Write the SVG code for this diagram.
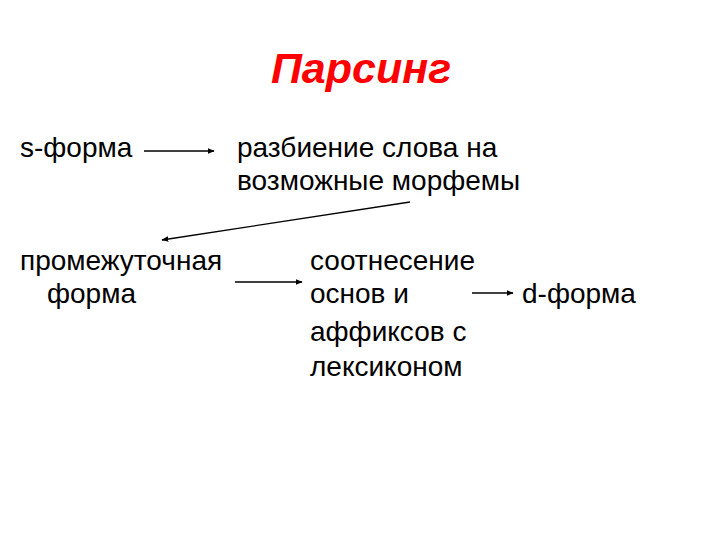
<svg xmlns="http://www.w3.org/2000/svg" width="720" height="540" viewBox="0 0 720 540">
<style>
.t{font-family:"Liberation Sans",Arial,sans-serif;font-size:28px;fill:#000}
.h{font-family:"Liberation Sans",Arial,sans-serif;font-size:43px;font-weight:bold;font-style:italic;fill:#ff0000}
.c{stroke:#000;stroke-width:1.3;fill:none;marker-end:url(#a)}
</style>
<defs>
<marker id="a" viewBox="0 0 10 10" refX="9" refY="5" markerWidth="7" markerHeight="7" markerUnits="userSpaceOnUse" orient="auto">
<path d="M0,1 L10,5 L0,9 Z" fill="#000"/>
</marker>
</defs>
<rect width="720" height="540" fill="#fff"/>
<g id="title"><text class="h" x="361" y="83" text-anchor="middle">Парсинг</text></g>
<g id="s-form"><text class="t" x="20" y="157">s-форма</text></g>
<g id="segmentation"><text class="t" x="237" y="157">разбиение слова на</text><text class="t" x="237" y="190">возможные морфемы</text></g>
<g id="intermediate"><text class="t" x="20" y="270">промежуточная</text><text class="t" x="47" y="303">форма</text></g>
<g id="matching"><text class="t" x="310" y="270">соотнесение</text><text class="t" x="310" y="303">основ и</text><text class="t" x="310" y="341">аффиксов с</text><text class="t" x="310" y="376">лексиконом</text></g>
<g id="d-form"><text class="t" x="522" y="303">d-форма</text></g>
<g id="connectors">
<line class="c" x1="144" y1="151" x2="214" y2="151"/>
<line class="c" x1="410" y1="202" x2="162" y2="240"/>
<line class="c" x1="235" y1="282" x2="302" y2="282"/>
<line class="c" x1="472" y1="293" x2="513" y2="293"/>
</g>
</svg>
